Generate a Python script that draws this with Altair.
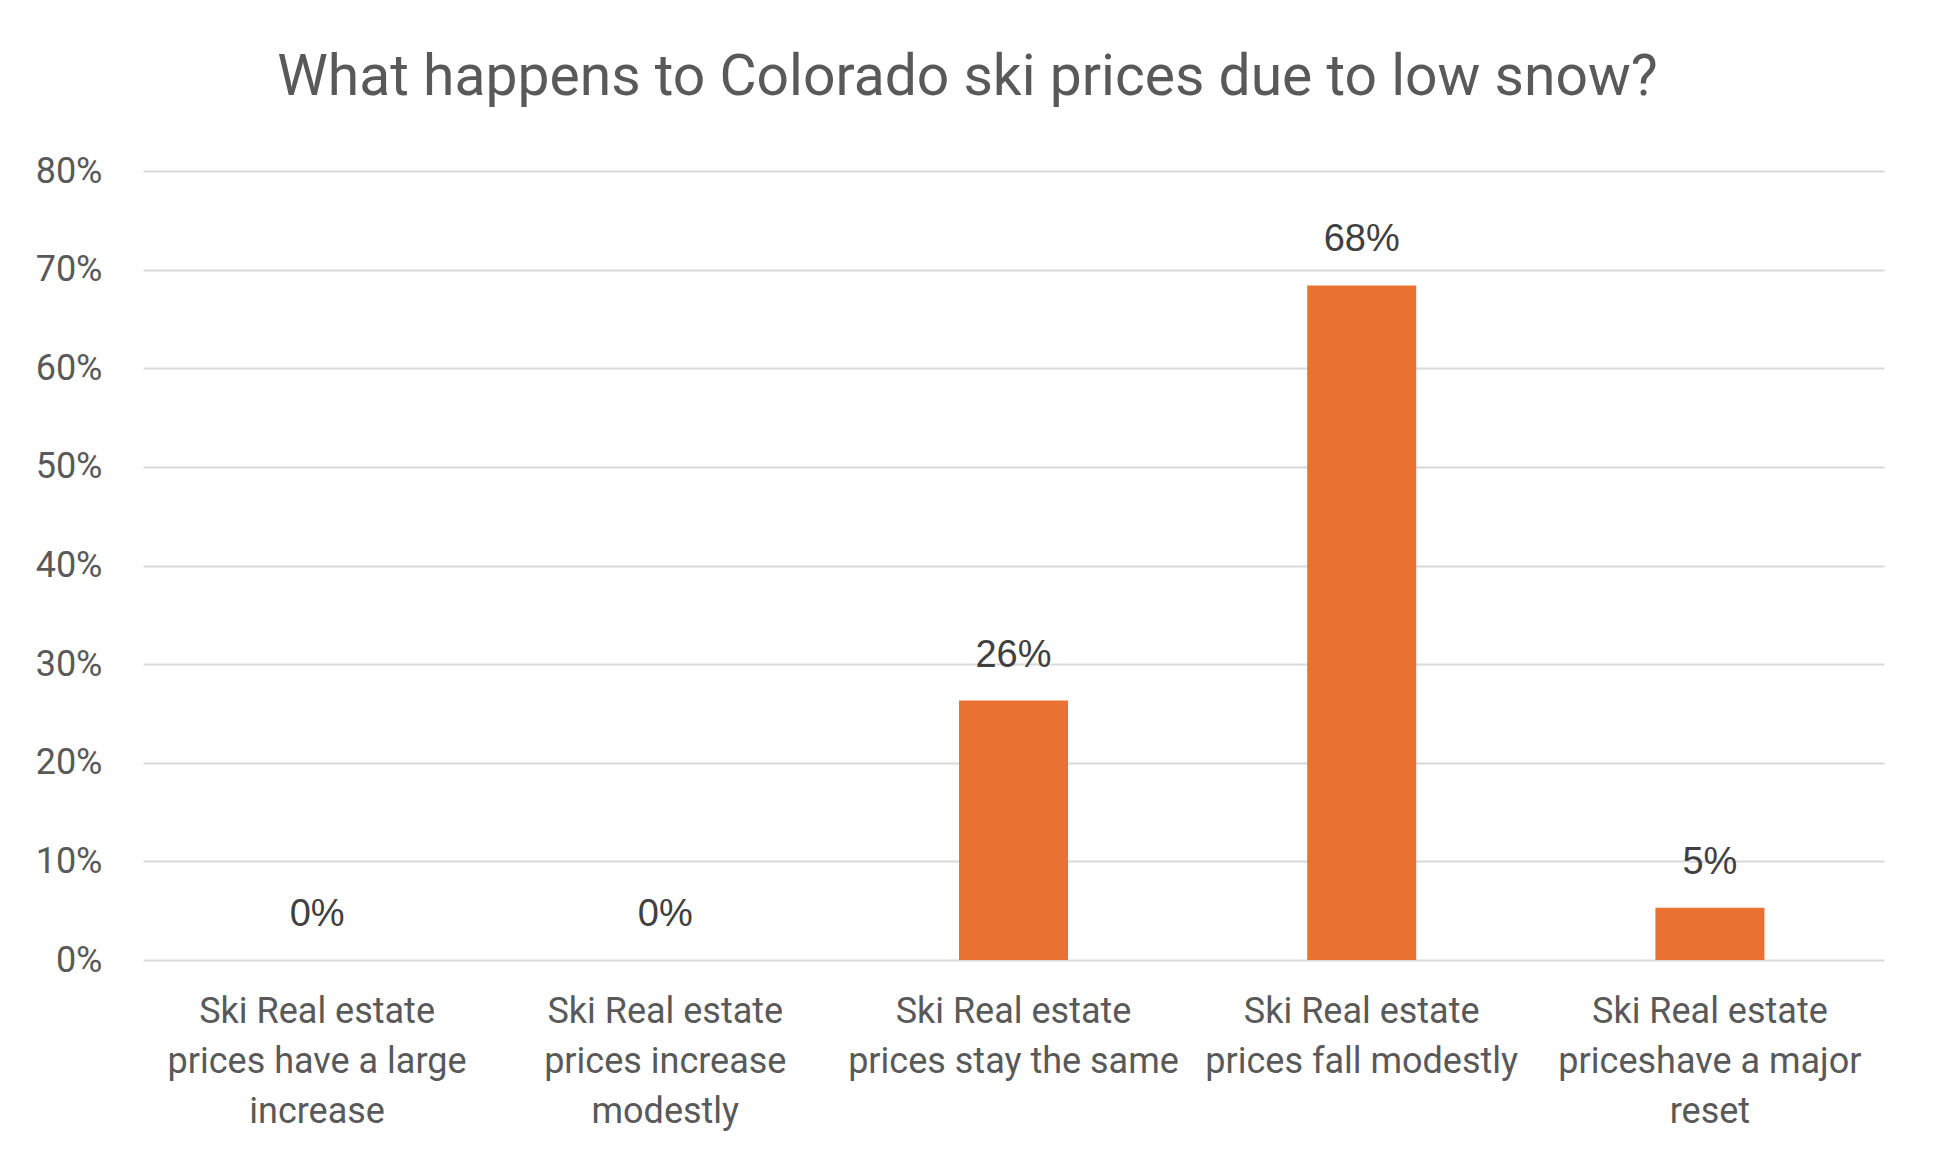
import altair as alt
import pandas as pd

title_text = "What happens to Colorado ski prices due to low snow?"
categories = [
    "Ski Real estate\nprices have a large\nincrease",
    "Ski Real estate\nprices increase\nmodestly",
    "Ski Real estate\nprices stay the same",
    "Ski Real estate\nprices fall modestly",
    "Ski Real estate\npriceshave a major\nreset",
]
values = [0.0, 0.0, 0.263, 0.684, 0.053]
y_ticks = [0.0, 0.1, 0.2, 0.3, 0.4, 0.5, 0.6, 0.7, 0.8]

df = pd.DataFrame({"category": categories, "value": values})

GREY = "#595959"
GRID = "#D9D9D9"
ORANGE = "#E97132"

x_enc = alt.X(
    "category:N",
    sort=categories,
    title=None,
    scale=alt.Scale(paddingInner=0, paddingOuter=0),
    axis=alt.Axis(
        labelExpr="split(datum.label, '\\n')",
        labelAngle=0,
        labelFont="Roboto",
        labelFontSize=36,
        labelColor=GREY,
        labelLineHeight=50,
        labelPadding=34,
        labelLimit=0,
        labelOverlap=False,
        labelFlush=False,
        ticks=False,
        tickSize=0,
        domain=False,
        grid=False,
    ),
)
y_enc = alt.Y(
    "value:Q",
    title=None,
    scale=alt.Scale(domain=[0, 0.8], nice=False),
    axis=alt.Axis(
        values=y_ticks,
        format=".0%",
        labelFont="Roboto",
        labelFontSize=36,
        labelColor=GREY,
        labelPadding=41,
        ticks=False,
        tickSize=0,
        domain=False,
        grid=True,
        gridColor=GRID,
        gridWidth=2,
    ),
)

bars = alt.Chart(df).mark_bar(
    color=ORANGE, width=alt.RelativeBandSize(0.313)
).encode(x=x_enc, y=y_enc)

labels = alt.Chart(df).mark_text(
    font="Liberation Sans", fontSize=38, color="#404040",
    baseline="alphabetic", align="center", dy=-34,
).encode(
    x=alt.X("category:N", sort=categories),
    y=alt.Y("value:Q"),
    text=alt.Text("value:Q", format=".0%"),
)

chart = alt.layer(bars, labels).properties(
    width=1741,
    height=789,
    padding={"left": 135, "top": 163, "right": 45, "bottom": 200},
    autosize=alt.AutoSizeParams(type="none"),
    background="white",
    title=alt.TitleParams(
        text=title_text,
        font="Roboto",
        fontSize=57,
        fontWeight="normal",
        color=GREY,
        anchor="middle",
        frame="group",
        baseline="alphabetic",
        offset=1,
        dx=-46,
    ),
).configure_view(stroke=None)

chart.save("out.html", embed_options={"renderer": "svg", "actions": False})
